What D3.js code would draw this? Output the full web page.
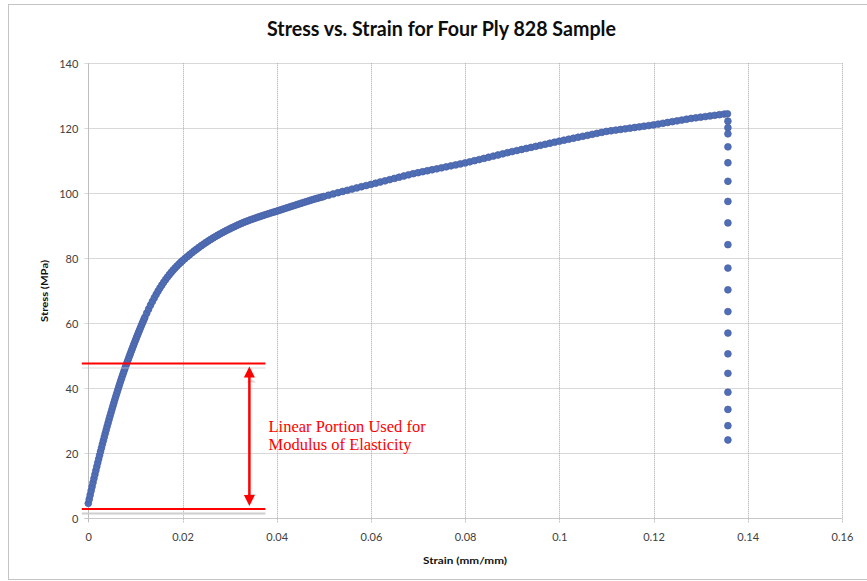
<!DOCTYPE html>
<html>
<head>
<meta charset="utf-8">
<script src="https://cdn.jsdelivr.net/npm/d3@7"></script>
<style>
  html, body { margin: 0; padding: 0; background: #fff; }
  svg { display: block; }
</style>
</head>
<body>
<svg id="chart" width="867" height="581"></svg>
<script>
// ---------------- DATA ----------------
const titleText = "Stress vs. Strain for Four Ply 828 Sample";
const xLabel = "Strain (mm/mm)";
const yLabel = "Stress (MPa)";
const xTicks = [0, 0.02, 0.04, 0.06, 0.08, 0.1, 0.12, 0.14, 0.16];
const yTicks = [0, 20, 40, 60, 80, 100, 120, 140];

const strain = [
  0, 0.0002, 0.0004, 0.0006, 0.0008, 0.0010, 0.0012, 0.0014, 0.0016, 0.0018,
  0.0020, 0.0022, 0.0024, 0.0026, 0.0028, 0.0030, 0.0032, 0.0034, 0.0036, 0.0038,
  0.0040, 0.0042, 0.0044, 0.0046, 0.0048, 0.0050, 0.0052, 0.0054, 0.0056, 0.0058,
  0.0060, 0.0062, 0.0064, 0.0066, 0.0068, 0.0070, 0.0072, 0.0074, 0.0076, 0.0078,
  0.0080, 0.0082, 0.0084, 0.0086, 0.0088, 0.0090, 0.0092, 0.0094, 0.0096, 0.0098,
  0.0100, 0.0102, 0.0104, 0.0106, 0.0108, 0.0110, 0.0112, 0.0114, 0.0116, 0.0118,
  0.0120, 0.0124, 0.0128, 0.0132, 0.0136, 0.0140, 0.0144, 0.0148, 0.0152, 0.0156,
  0.0160, 0.0164, 0.0168, 0.0172, 0.0176, 0.0180, 0.0184, 0.0188, 0.0192, 0.0196,
  0.0200, 0.0205, 0.0210, 0.0215, 0.0220, 0.0225, 0.0230, 0.0235, 0.0240, 0.0245,
  0.0250, 0.0255, 0.0260, 0.0265, 0.0270, 0.0275, 0.0280, 0.0285, 0.0290, 0.0295,
  0.0300, 0.0305, 0.0310, 0.0315, 0.0320, 0.0325, 0.0330, 0.0335, 0.0340, 0.0345,
  0.0350, 0.0355, 0.0360, 0.0365, 0.0370, 0.0375, 0.0380, 0.0385, 0.0390, 0.0395,
  0.0400, 0.0405, 0.0410, 0.0415, 0.0420, 0.0425, 0.0430, 0.0435, 0.0440, 0.0445,
  0.0450, 0.0455, 0.0460, 0.0465, 0.0470, 0.0475, 0.0480, 0.0485, 0.0490, 0.0495,
  0.050, 0.051, 0.052, 0.053, 0.054, 0.055, 0.056, 0.057, 0.058, 0.059,
  0.060, 0.061, 0.062, 0.063, 0.064, 0.065, 0.066, 0.067, 0.068, 0.069,
  0.070, 0.071, 0.072, 0.073, 0.074, 0.075, 0.076, 0.077, 0.078, 0.079,
  0.080, 0.081, 0.082, 0.083, 0.084, 0.085, 0.086, 0.087, 0.088, 0.089,
  0.090, 0.091, 0.092, 0.093, 0.094, 0.095, 0.096, 0.097, 0.098, 0.099,
  0.100, 0.101, 0.102, 0.103, 0.104, 0.105, 0.106, 0.107, 0.108, 0.109,
  0.110, 0.111, 0.112, 0.113, 0.114, 0.115, 0.116, 0.117, 0.118, 0.119,
  0.120, 0.121, 0.122, 0.123, 0.124, 0.125, 0.126, 0.127, 0.128, 0.129,
  0.130, 0.131, 0.132, 0.133, 0.134, 0.135, 0.1357
];
const stress = [
  4.60, 5.90, 7.19, 8.47, 9.73, 10.99, 12.23, 13.45, 14.67, 15.87,
  17.06, 18.24, 19.41, 20.56, 21.70, 22.83, 23.94, 25.05, 26.14, 27.22,
  28.29, 29.34, 30.38, 31.41, 32.43, 33.43, 34.43, 35.40, 36.37, 37.33,
  38.27, 39.20, 40.12, 41.03, 41.92, 42.80, 43.67, 44.52, 45.37, 46.20,
  47.02, 47.83, 48.62, 49.40, 50.18, 50.95, 51.72, 52.48, 53.24, 53.99,
  54.73, 55.47, 56.21, 56.94, 57.66, 58.37, 59.08, 59.77, 60.46, 61.13,
  61.80, 63.10, 64.35, 65.55, 66.70, 67.80, 68.86, 69.87, 70.83, 71.74,
  72.61, 73.43, 74.21, 74.95, 75.66, 76.33, 76.97, 77.58, 78.16, 78.72,
  79.26, 79.90, 80.50, 81.11, 81.70, 82.27, 82.82, 83.36, 83.88, 84.39,
  84.88, 85.36, 85.82, 86.27, 86.70, 87.12, 87.52, 87.92, 88.30, 88.68,
  89.04, 89.40, 89.74, 90.08, 90.41, 90.74, 91.05, 91.33, 91.60, 91.87,
  92.13, 92.39, 92.64, 92.89, 93.13, 93.37, 93.60, 93.83, 94.06, 94.28,
  94.50, 94.74, 94.97, 95.21, 95.44, 95.68, 95.91, 96.15, 96.38, 96.62,
  96.85, 97.08, 97.31, 97.54, 97.77, 98.00, 98.22, 98.42, 98.62, 98.82,
  99.02, 99.41, 99.80, 100.18, 100.56, 100.93, 101.30, 101.66, 102.02, 102.38,
  102.73, 103.10, 103.47, 103.84, 104.21, 104.58, 104.95, 105.32, 105.68, 106.04,
  106.34, 106.64, 106.94, 107.24, 107.54, 107.84, 108.14, 108.44, 108.74, 109.04,
  109.34, 109.69, 110.04, 110.39, 110.74, 111.09, 111.44, 111.79, 112.14, 112.49,
  112.84, 113.16, 113.48, 113.80, 114.12, 114.44, 114.76, 115.08, 115.40, 115.72,
  116.04, 116.34, 116.64, 116.94, 117.24, 117.54, 117.84, 118.14, 118.44, 118.74,
  119.04, 119.24, 119.44, 119.64, 119.84, 120.04, 120.24, 120.44, 120.64, 120.84,
  121.04, 121.29, 121.54, 121.79, 122.04, 122.29, 122.54, 122.79, 123.04, 123.23,
  123.42, 123.61, 123.80, 123.99, 124.18, 124.37, 124.45
];
// points recorded during failure (drop at constant strain)
const failureStrain = 0.1358;
const failureStress = [122.2, 120.2, 118.3, 114.3, 109.4, 103.7, 97.5, 90.9, 84.2, 77.0,
  70.3, 63.6, 57.0, 50.6, 44.6, 38.8, 33.5, 28.5, 24.1];

// annotation
const annotationLines = ["Linear Portion Used for", "Modulus of Elasticity"];
const linearLow = 2.9;     // MPa (lower red line)
const linearHigh = 47.6;   // MPa (upper red line)
const lineStrainEnd = 0.0376;
const arrowStrain = 0.0342;

// ---------------- CHART ----------------
const svg = d3.select("#chart");

// outer frame
svg.append("rect").attr("x", 8.5).attr("y", 4.5).attr("width", 880).attr("height", 575)
  .attr("fill", "#fff").attr("stroke", "#c4c4c4").attr("stroke-width", 1);

const x = d3.scaleLinear().domain([0, 0.16]).range([88.3, 841.9]);
const y = d3.scaleLinear().domain([0, 140]).range([518.3, 63.3]);

// horizontal gridlines (solid light grey)
svg.append("g").selectAll("line").data(yTicks.filter(d => d > 0)).join("line")
  .attr("x1", x(0) - 4).attr("x2", x(0.16))
  .attr("y1", d => Math.round(y(d)) + 0.5).attr("y2", d => Math.round(y(d)) + 0.5)
  .attr("stroke", "#d9d9d9").attr("stroke-width", 1);

// vertical gridlines (dotted grey)
svg.append("g").selectAll("line").data(xTicks.filter(d => d > 0)).join("line")
  .attr("x1", d => Math.round(x(d)) + 0.5).attr("x2", d => Math.round(x(d)) + 0.5)
  .attr("y1", y(140)).attr("y2", y(0) + 4)
  .attr("stroke", "#a8a8a8").attr("stroke-width", 1).attr("stroke-dasharray", "1,1");

// axes lines
svg.append("line").attr("x1", Math.round(x(0)) + 0.5).attr("x2", Math.round(x(0)) + 0.5)
  .attr("y1", y(140)).attr("y2", y(0) + 4).attr("stroke", "#bdbdbd");
svg.append("line").attr("x1", x(0) - 4).attr("x2", x(0.16))
  .attr("y1", Math.round(y(0)) + 0.5).attr("y2", Math.round(y(0)) + 0.5).attr("stroke", "#c8c8c8");

// tick labels via d3 axes
const fmtX = d => d === 0 ? "0" : d3.format("")(+d.toFixed(2));
const xAxis = d3.axisBottom(x).tickValues(xTicks).tickFormat(fmtX).tickSize(0).tickPadding(0);
const gx = svg.append("g").attr("transform", `translate(0,${y(0)})`).call(xAxis);
gx.select(".domain").remove();
gx.selectAll("text").attr("dy", null).attr("y", 23)
  .attr("font-family", "Lato, 'Open Sans', sans-serif").attr("font-size", 11).attr("fill", "#404040");

const yAxis = d3.axisLeft(y).tickValues(yTicks).tickSize(0).tickPadding(0);
const gy = svg.append("g").attr("transform", `translate(${x(0)},0)`).call(yAxis);
gy.select(".domain").remove();
gy.selectAll("text").attr("x", -10).attr("dy", "0.35em")
  .attr("font-family", "Lato, 'Open Sans', sans-serif").attr("font-size", 11).attr("fill", "#404040");

// title
svg.append("text").attr("x", 441.5).attr("y", 36).attr("text-anchor", "middle")
  .attr("font-family", "Lato, 'Open Sans', sans-serif").attr("font-weight", "bold")
  .attr("font-size", 20).attr("fill", "#0d0d0d")
  .attr("textLength", 349).attr("lengthAdjust", "spacingAndGlyphs")
  .text(titleText);

// axis titles
svg.append("text").attr("x", 465).attr("y", 564).attr("text-anchor", "middle")
  .attr("font-family", "Lato, 'Open Sans', sans-serif").attr("font-weight", "bold")
  .attr("font-size", 10).attr("fill", "#111").attr("textLength", 84).attr("lengthAdjust", "spacingAndGlyphs")
  .text(xLabel);
svg.append("text").attr("transform", "translate(48,291) rotate(-90)").attr("text-anchor", "middle")
  .attr("font-family", "Lato, 'Open Sans', sans-serif").attr("font-weight", "bold")
  .attr("font-size", 10).attr("fill", "#111").attr("textLength", 62).attr("lengthAdjust", "spacingAndGlyphs")
  .text(yLabel);

// data points
const pts = strain.map((s, i) => ({ s, v: stress[i] }))
  .concat(failureStress.map(v => ({ s: failureStrain, v })));
svg.append("g").selectAll("circle").data(pts).join("circle")
  .attr("cx", d => x(d.s)).attr("cy", d => y(d.v)).attr("r", 3.4)
  .attr("fill", "#4e6fb6").attr("stroke", "#4b5fa4").attr("stroke-width", 0.7);

// annotation: red lines with shadow
const ann = svg.append("g");
const lx1 = x(0) - 6.5, lx2 = x(lineStrainEnd);
[linearLow, linearHigh].forEach(v => {
  ann.append("line").attr("x1", lx1).attr("x2", lx2).attr("y1", y(v) + 4.5).attr("y2", y(v) + 4.5)
    .attr("stroke", "#c9c9c9").attr("stroke-width", 2).attr("opacity", v === linearLow ? 0.9 : 0.35);
  ann.append("line").attr("x1", lx1).attr("x2", lx2).attr("y1", y(v)).attr("y2", y(v))
    .attr("stroke", "#ff0000").attr("stroke-width", 2);
});

// double arrow
const ax = x(arrowStrain);
const yTop = y(linearHigh) + 3, yBot = y(linearLow) - 3;
ann.append("path")
  .attr("d", `M${ax + 2},${yTop + 13} L${ax - 3},${yTop + 16} L${ax + 7},${yTop + 16} Z M${ax + 2},${yBot - 9} L${ax - 3},${yBot - 12} L${ax + 7},${yBot - 12} Z`)
  .attr("fill", "#c9c9c9").attr("opacity", 0.8);
ann.append("line").attr("x1", ax).attr("x2", ax).attr("y1", yTop + 8).attr("y2", yBot - 8)
  .attr("stroke", "#ff0000").attr("stroke-width", 2.5);
ann.append("path")
  .attr("d", `M${ax},${yTop} L${ax - 5.5},${yTop + 11} L${ax + 5.5},${yTop + 11} Z`)
  .attr("fill", "#ff0000");
ann.append("path")
  .attr("d", `M${ax},${yBot} L${ax - 5.5},${yBot - 11} L${ax + 5.5},${yBot - 11} Z`)
  .attr("fill", "#ff0000");

// annotation text
ann.selectAll("text.ann").data(annotationLines).join("text")
  .attr("class", "ann")
  .attr("x", 268.5).attr("y", (d, i) => 431.5 + i * 18.5)
  .attr("font-family", "'Liberation Serif', 'DejaVu Serif', serif")
  .attr("font-size", 16.5).attr("fill", "#ff0000")
  .text(d => d);
</script>
</body>
</html>
